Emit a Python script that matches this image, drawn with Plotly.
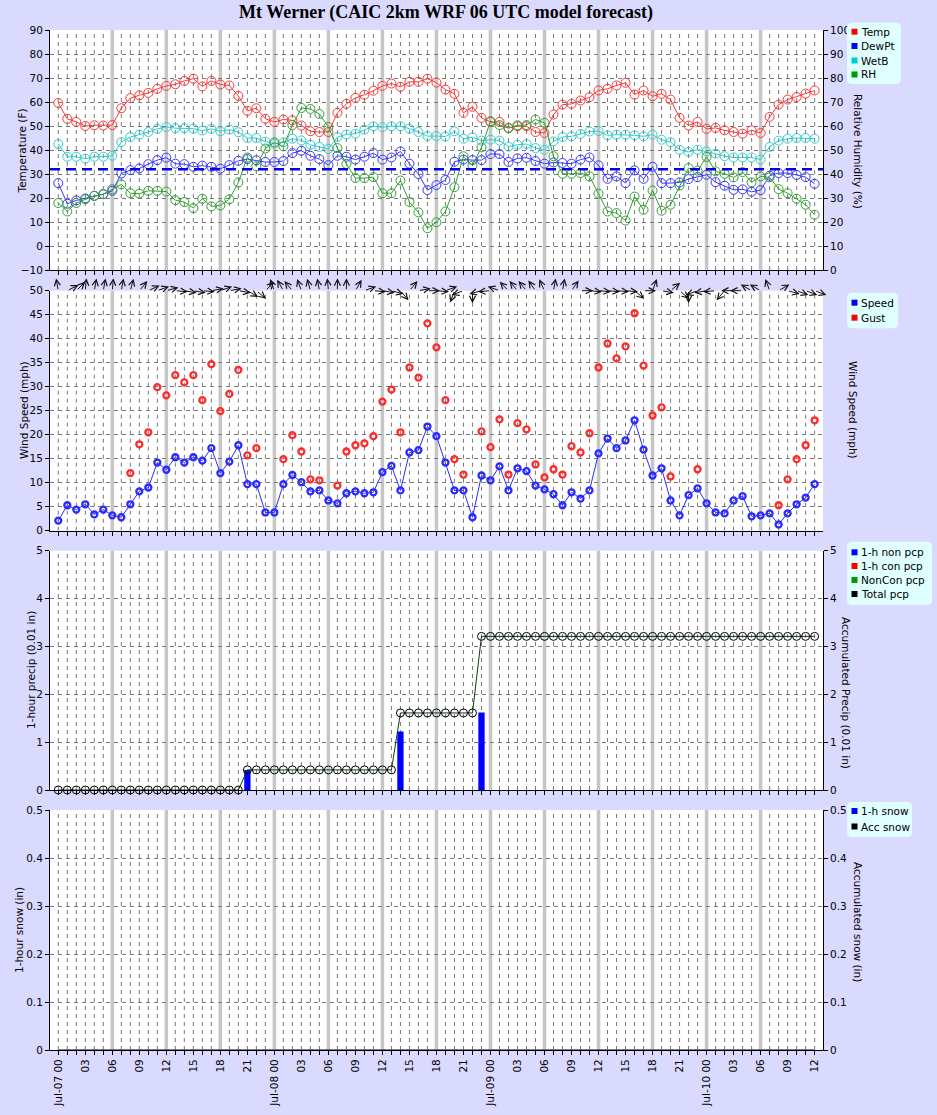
import math
import plotly.graph_objects as go

# ---------------- data ----------------
hours = list(range(85))
tick_hours = list(range(0, 85, 3))
tick_labels = ['Jul-07 00', '03', '06', '09', '12', '15', '18', '21',
               'Jul-08 00', '03', '06', '09', '12', '15', '18', '21',
               'Jul-09 00', '03', '06', '09', '12', '15', '18', '21',
               'Jul-10 00', '03', '06', '09', '12']
six_hour_marks = [6, 12, 18, 24, 30, 36, 42, 48, 54, 60, 66, 72, 78]
freezing_f = 32

temp = [59.6, 53, 51.7, 50, 50.3, 50.2, 50.4, 57.4, 61.6, 62.8,
        63.8, 65.5, 66.7, 67.4, 68.8, 69.7, 66.5, 68.8, 67.3, 66.9,
        62.5, 56.3, 57.4, 53, 51.7, 52.7, 52.4, 50.2, 47.8, 47.5,
        47.5, 55.5, 59.2, 61.7, 63, 64.7, 66.7, 67.7, 66.3, 68.4,
        68.4, 69.7, 68.1, 65.2, 63.4, 55.5, 58, 53.4, 51.7, 51.7,
        49.2, 49.9, 49.9, 47.5, 47.1, 54.8, 58.9, 59.2, 60.6, 62,
        64.8, 65.5, 66.9, 68, 63.1, 64.8, 62.4, 63.4, 61, 53.4,
        50.2, 51.7, 48.8, 49.2, 48.2, 47.5, 46.8, 48.2, 47.1, 53.8,
        58.9, 61, 62.1, 63.5, 64.8]
dewpt = [26.2, 17.6, 19, 19.8, 20.9, 21.6, 23, 30.2, 31.6, 32.3,
         34.1, 35.8, 36.8, 34.3, 34.1, 33, 33.5, 33, 32.2, 33.7,
         35.5, 36.2, 35.7, 35, 35, 35.4, 38.7, 39.7, 37.6, 36.2,
         33.7, 37.6, 37.2, 36, 37.2, 38.7, 36, 36.9, 39.4, 34.3,
         30, 23.3, 25.4, 27.5, 35.1, 36, 35.8, 35.8, 38.3, 38.3,
         35, 36.5, 36.8, 35.4, 34.3, 34.8, 34.6, 34.3, 36, 36.9,
         33.6, 28, 29, 26.2, 31.5, 28, 33, 26.2, 26.2, 26.5,
         27.9, 28.7, 29.7, 26.6, 25.1, 23.4, 23.6, 22.6, 23.3, 29.3,
         30.4, 30.4, 29.6, 28.7, 25.9]
wetb = [42.5, 37.2, 37.2, 36.4, 37.2, 37.2, 37.6, 43.3, 45.4, 46.4,
        47.5, 48.8, 49.6, 49.1, 49.1, 48.9, 48.1, 48.8, 47.8, 48.5,
        47.4, 45, 45, 43.5, 42.6, 43.2, 44.7, 44, 42.2, 41.3,
        40.4, 45.4, 46.5, 46.8, 48.5, 49.9, 49.5, 49.9, 49.9, 48.9,
        47.5, 45.8, 45.8, 45.6, 47.8, 44.7, 45.3, 43.9, 44.3, 43.9,
        41.4, 42.2, 42.5, 40.8, 40.1, 43.6, 45.4, 45.7, 46.7, 47.7,
        47.9, 46.1, 46.4, 46.4, 46.1, 45.7, 46.4, 44.3, 43.3, 40.1,
        39.2, 40.1, 39.4, 38.5, 37.4, 36.9, 36.9, 36.9, 36, 41.3,
        43.9, 44.7, 45, 45, 44.7]
rh = [27.9, 24.4, 27.9, 29.5, 30.9, 31.6, 33.7, 35.7, 32, 31.8,
      33, 33, 32.7, 29.1, 28.3, 25.8, 29.7, 26.5, 26.9, 29.5,
      36.5, 46.9, 43.2, 50.6, 53.2, 51.5, 60.4, 67.5, 67.1, 65,
      59.6, 50.8, 44.2, 38.3, 38.3, 38.7, 32, 32, 37.3, 28.3,
      24, 17.4, 19.9, 24.4, 34.5, 47.4, 43.5, 51.1, 62, 60.4,
      59.1, 60.3, 60.4, 62.7, 61.3, 47.4, 40.1, 40.1, 40.4, 39,
      31.8, 24.4, 23.7, 20.6, 30.6, 25.1, 33.1, 24.7, 27.2, 35.2,
      42.5, 41.4, 47.1, 41.1, 40.1, 38.6, 40.8, 36.5, 39, 38.6,
      33.7, 32, 29.7, 27.2, 23]

speed = [2.1, 5.3, 4.4, 5.5, 3.4, 4.4, 3.2, 2.8, 5.5, 8.2,
         9, 14.2, 12.7, 15.3, 14.2, 15.3, 14.6, 17.2, 12, 14.4,
         17.8, 9.7, 9.7, 3.8, 3.8, 9.7, 11.6, 10.1, 8.2, 8.4,
         6.3, 5.7, 7.8, 8.2, 7.8, 8, 12.2, 13.5, 8.4, 16.3,
         16.8, 21.7, 19.7, 14.2, 8.4, 8.4, 2.8, 11.5, 10.5, 13.4,
         8.4, 13, 12.4, 9.4, 8.6, 7.6, 5.3, 8, 6.7, 8.4,
         16.1, 19.2, 17.2, 18.8, 23, 16.9, 11.5, 13, 6.3, 3.2,
         7.4, 8.8, 5.7, 3.8, 3.6, 6.3, 7.2, 3, 3.2, 3.6,
         1.3, 3.6, 5.5, 6.9, 9.7]
gust = [None, None, None, None, None, None, None, None, 12, 18,
        20.5, 29.9, 28.2, 32.4, 30.9, 32.4, 27.2, 34.7, 24.9, 28.5,
        33.5, 15.7, 17.2, None, None, 14.9, 19.9, 16.5, 10.7, 10.5,
        None, 9.4, 16.5, 17.8, 18.2, 19.7, 26.9, 29.4, 20.5, 34,
        31.9, 43.2, 38.2, 27.2, 14.9, 11.7, None, 20.7, 17.4, 23.2,
        11.7, 22.4, 21.1, 13.8, 11.1, 12.8, 11.7, 17.6, 16.3, 20.3,
        34, 39, 35.9, 38.4, 45.3, 34.4, 24, 25.7, 11.3, None,
        None, 12.8, None, None, None, None, None, None, None, None,
        5.3, 10.7, 14.9, 17.8, 23]
# direction the wind arrow points to (deg clockwise from north)
wind_to_dir = [350, 63, 45, 5, 10, 10, 5, 10, 15, 40,
               65, 70, 75, 95, 100, 100, 95, 80, 70, 80,
               100, 120, 130, 45, 340, 330, 320, 340, 345, 350,
               355, 0, 0, 30, 70, 95, 100, 105, 140, 40,
               80, 90, 95, 70, 200, 250, 180, 255, 265, 290,
               315, 320, 320, 325, 335, 10, 10, 35, 90, 95,
               95, 95, 95, 95, 130, 90, 20, 100, 50, 130,
               180, 250, 260, 265, 220, 270, 270, 300, 300, 340,
               60, 105, 110, 110, 110]

pcp_1h_noncon = [0] * 21 + [0.42] + [0] * 16 + [1.22] + [0] * 8 + [1.62] + [0] * 37
pcp_1h_con = [0] * 85
pcp_total_acc = [0] * 21 + [0.42] * 17 + [1.61] * 9 + [3.21] * 38
snow_1h = [0] * 85
snow_acc = [0] * 85

# ---------------- layout geometry ----------------
W, H = 937, 1115
ML, MR, MT, MB = 50, 114, 30, 65
PW = W - ML - MR
PH = H - MT - MB
X_RANGE = [-0.92, 84.93]


def px(xp):
    return (xp - ML) / PW


def py(yp):
    return (H - MB - yp) / PH


FONT = "DejaVu Sans"
FS = 10.5
BG = "#dadaff"
GRID = "#7a7a7a"
DASH = "4px,4px"

C_TEMP = "#ff3535"
C_DEW = "#3535ff"
C_WETB = "#30cccc"
C_RH = "#30a030"

dom1 = [py(270), py(30)]
dom2 = [py(530.7), py(290.7)]
dom3 = [py(790), py(550.7)]
dom4 = [py(1050), py(810)]

fig = go.Figure()


def line_trace(y, color, xa, ya):
    return go.Scatter(x=hours, y=y, mode="lines+markers", xaxis=xa, yaxis=ya,
                      line=dict(color=color, width=1),
                      marker=dict(symbol="circle-open", size=9, color=color,
                                  line=dict(width=1, color=color)),
                      showlegend=False, cliponaxis=False)


# panel 1
fig.add_trace(line_trace(rh, C_RH, "x", "y2"))
fig.add_trace(line_trace(wetb, C_WETB, "x", "y"))
fig.add_trace(line_trace(dewpt, C_DEW, "x", "y"))
fig.add_trace(line_trace(temp, C_TEMP, "x", "y"))

# panel 2
fig.add_trace(go.Scatter(x=hours, y=gust, mode="markers", xaxis="x2", yaxis="y3",
                         marker=dict(symbol="circle-open", size=6, color="#ff2a2a",
                                     line=dict(width=2.3, color="#ff2a2a")),
                         showlegend=False))
fig.add_trace(go.Scatter(x=hours, y=speed, mode="lines+markers", xaxis="x2", yaxis="y3",
                         line=dict(color="#2a2aff", width=1),
                         marker=dict(symbol="circle-open", size=6, color="#2a2aff",
                                     line=dict(width=2.3, color="#2a2aff")),
                         showlegend=False))

# panel 3
fig.add_trace(go.Bar(x=hours, y=pcp_1h_noncon, xaxis="x3", yaxis="y5", width=0.7,
                     marker=dict(color="#0000ff", line=dict(width=0)), showlegend=False))
fig.add_trace(go.Bar(x=hours, y=pcp_1h_con, xaxis="x3", yaxis="y5", width=0.7,
                     marker=dict(color="#ff0000", line=dict(width=0)), showlegend=False))
fig.add_trace(go.Scatter(x=hours, y=pcp_total_acc, mode="lines+markers", xaxis="x3", yaxis="y6",
                         line=dict(color="#0d3d0d", width=1),
                         marker=dict(symbol="circle-open", size=8, color="#000000",
                                     line=dict(width=1, color="#000000")),
                         showlegend=False, cliponaxis=False))

# panel 4
fig.add_trace(go.Bar(x=hours, y=snow_1h, xaxis="x4", yaxis="y7", width=0.7,
                     marker=dict(color="#0000ff"), showlegend=False))
fig.add_trace(go.Scatter(x=hours, y=snow_acc, mode="lines", xaxis="x4", yaxis="y8",
                         line=dict(color="#000000", width=1), showlegend=False))

# ---------------- axes ----------------
tick_text_all = []
for h in hours:
    if h in tick_hours:
        tick_text_all.append(tick_labels[tick_hours.index(h)])
    else:
        tick_text_all.append("")

xcommon = dict(range=X_RANGE, domain=[0, 1], tickmode="array", tickvals=hours,
               ticktext=tick_text_all, ticks="outside", ticklen=4, tickcolor="black",
               showline=True, linecolor="black", linewidth=1,
               showgrid=False, zeroline=False, automargin=False,
               tickfont=dict(family=FONT, size=FS, color="black"))

ycommon = dict(ticks="outside", ticklen=4, tickcolor="black", showline=True,
               linecolor="black", linewidth=1, zeroline=False, automargin=False,
               tickmode="linear", tickfont=dict(family=FONT, size=FS, color="black"))


def yleft(dom, rng, dt, anchor):
    d = dict(ycommon)
    d.update(domain=dom, range=rng, dtick=dt, tick0=rng[0], anchor=anchor,
             showgrid=True, gridcolor=GRID, griddash=DASH, gridwidth=1)
    return d


def yright(ov, rng, dt, anchor):
    d = dict(ycommon)
    d.update(overlaying=ov, side="right", range=rng, dtick=dt, tick0=rng[0],
             anchor=anchor, showgrid=False)
    return d


layout = dict(
    width=W, height=H,
    margin=dict(l=ML, r=MR, t=MT, b=MB),
    paper_bgcolor=BG, plot_bgcolor="white",
    barmode="overlay",
    font=dict(family=FONT, size=FS, color="black"),
    showlegend=False,
)
for i, anc in zip(range(1, 5), ["y", "y3", "y5", "y7"]):
    d = dict(xcommon)
    d["anchor"] = anc
    if i < 4:
        d["showticklabels"] = False
    else:
        d["tickangle"] = -90
    layout["xaxis" if i == 1 else "xaxis%d" % i] = d

layout["yaxis"] = yleft(dom1, [-10, 90], 10, "x")
layout["yaxis2"] = yright("y", [0, 100], 10, "x")
layout["yaxis3"] = yleft(dom2, [0, 50], 5, "x2")
layout["yaxis4"] = yright("y3", [0, 50], 5, "x2")
layout["yaxis5"] = yleft(dom3, [0, 5], 1, "x3")
layout["yaxis6"] = yright("y5", [0, 5], 1, "x3")
layout["yaxis7"] = yleft(dom4, [0, 0.5], 0.1, "x4")
layout["yaxis8"] = yright("y7", [0, 0.5], 0.1, "x4")
fig.update_layout(**layout)

# ---------------- shapes ----------------
shapes = []
for xr, yr in [("x", "y"), ("x2", "y3"), ("x3", "y5"), ("x4", "y7")]:
    for h in hours:
        if h in six_hour_marks:
            shapes.append(dict(type="line", xref=xr, yref=yr + " domain", x0=h, x1=h,
                               y0=0, y1=1, line=dict(color="#c6c6c6", width=3.5),
                               layer="below"))
        else:
            shapes.append(dict(type="line", xref=xr, yref=yr + " domain", x0=h, x1=h,
                               y0=0, y1=1, line=dict(color=GRID, width=1, dash=DASH),
                               layer="below"))
shapes.append(dict(type="line", xref="x domain", yref="y", x0=0, x1=1,
                   y0=freezing_f, y1=freezing_f, layer="above",
                   line=dict(color="#0000ee", width=2.5, dash="10px,6px")))


def rounded_box(x0, y0, x1, y1, r=5):
    pts = [
        ("M", x0 + r, y0), ("L", x1 - r, y0), ("Q", x1, y0, x1, y0 + r),
        ("L", x1, y1 - r), ("Q", x1, y1, x1 - r, y1), ("L", x0 + r, y1),
        ("Q", x0, y1, x0, y1 - r), ("L", x0, y0 + r), ("Q", x0, y0, x0 + r, y0),
    ]
    s = ""
    for p in pts:
        cmd = p[0]
        coords = p[1:]
        parts = []
        for k in range(0, len(coords), 2):
            parts.append("%.5f,%.5f" % (px(coords[k]), py(coords[k + 1])))
        s += cmd + " " + " ".join(parts) + " "
    return s + "Z"


annotations = []
legends = [
    ((847, 22.7, 901, 84), [("Temp", "#ff0000", 31.7), ("DewPt", "#0000ff", 46),
                             ("WetB", "#00cccc", 60.5), ("RH", "#009900", 74.5)]),
    ((847, 292.7, 898, 328.3), [("Speed", "#0000ff", 302.7), ("Gust", "#ff0000", 317.7)]),
    ((847, 541.7, 932, 605), [("1-h non pcp", "#0000ff", 552.3), ("1-h con pcp", "#ff0000", 566),
                              ("NonCon pcp", "#009900", 580), ("Total pcp", "#000000", 594)]),
    ((847, 802, 912, 837), [("1-h snow", "#0000ff", 811), ("Acc snow", "#000000", 826.5)]),
]
for (bx0, by0, bx1, by1), items in legends:
    shapes.append(dict(type="path", xref="paper", yref="paper",
                       path=rounded_box(bx0, by0, bx1, by1),
                       fillcolor="#e0ffff", line=dict(width=0), layer="above"))
    for name, col, yy in items:
        shapes.append(dict(type="rect", xref="paper", yref="paper", layer="above",
                           x0=px(851.5), x1=px(857.5), y0=py(yy + 3), y1=py(yy - 3),
                           fillcolor=col, line=dict(width=0)))
        annotations.append(dict(text=name, xref="paper", yref="paper", x=px(859),
                                y=py(yy), xanchor="left", yanchor="middle", showarrow=False,
                                font=dict(family=FONT, size=FS, color="black")))

# axis titles
left_titles = [("Temperature (F)", 21, 151.5), ("Wind Speed (mph)", 24, 410),
               ("1-hour precip (0.01 in)", 31, 670), ("1-hour snow (in)", 19, 930)]
right_titles = [("Relative Humidity (%)", 858, 151), ("Wind Speed (mph)", 853, 410),
                ("Accumulated Precip (0.01 in)", 846, 693), ("Accumulated snow (in)", 858, 922)]
for t, xx, yy in left_titles:
    annotations.append(dict(text=t, xref="paper", yref="paper", x=px(xx), y=py(yy),
                            xanchor="center", yanchor="middle", textangle=-90, showarrow=False,
                            font=dict(family=FONT, size=FS, color="black")))
for t, xx, yy in right_titles:
    annotations.append(dict(text=t, xref="paper", yref="paper", x=px(xx), y=py(yy),
                            xanchor="center", yanchor="middle", textangle=90, showarrow=False,
                            font=dict(family=FONT, size=FS, color="black")))

annotations.append(dict(text="<b>Mt Werner (CAIC 2km WRF 06 UTC model forecast)</b>",
                        xref="paper", yref="paper", x=px(446), y=py(12.5),
                        xanchor="center", yanchor="middle", showarrow=False,
                        font=dict(family="Liberation Serif", size=18, color="black")))

# wind direction arrows on top of the wind panel
ARROW_PX = 12.5
px_per_hour = PW / (X_RANGE[1] - X_RANGE[0])
px_per_mph = (dom2[1] - dom2[0]) * PH / 50.0
for h, d in zip(hours, wind_to_dir):
    th = math.radians(d)
    hx = h + ARROW_PX * math.sin(th) / px_per_hour
    hy = 50 + ARROW_PX * math.cos(th) / px_per_mph
    annotations.append(dict(x=hx, y=hy, xref="x2", yref="y3", ax=h, ay=50,
                            axref="x2", ayref="y3", text="", showarrow=True,
                            arrowhead=5, arrowsize=1.2, arrowwidth=1, arrowcolor="#111111",
                            standoff=0, startstandoff=0))

fig.update_layout(shapes=shapes, annotations=annotations)
fig.write_html("out.html")
